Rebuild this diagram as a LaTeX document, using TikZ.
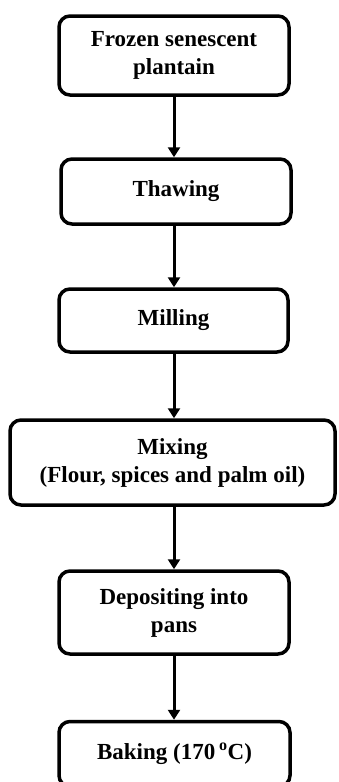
\documentclass[tikz,border=0pt]{standalone}
\usepackage{fontspec}
\setmainfont{Liberation Serif}
\usepackage{tikz}
\usetikzlibrary{arrows.meta,positioning}
\tikzset{stagebox/.style={draw,line width=3.5pt,rounded corners=11pt,align=center,inner sep=0pt,
    font=\fontsize{23}{28}\selectfont\bfseries,minimum width=230pt},
  flow/.style={-{Triangle[length=10pt,width=12pt]},line width=3pt}}

\begin{document}
\begin{tikzpicture}[x=1pt,y=-1pt]
\useasboundingbox (0,0) rectangle (339,782);
% process steps
\node[stagebox,minimum height=79pt] (frozen) at (174,55.5) {Frozen senescent\\plantain};
\node[stagebox,minimum height=65pt] (thaw) at (176,191.5) {Thawing};
\node[stagebox,minimum height=63pt,minimum width=229pt] (mill) at (173.5,320.5) {Milling};
\node[stagebox,minimum height=85pt,minimum width=325pt] (mix) at (172.5,462.5) {Mixing\\(Flour, spices and palm oil)};
\node[stagebox,minimum height=83pt] (deposit) at (174,612.5) {Depositing into\\pans};
\node[stagebox,minimum height=65pt,minimum width=231pt] (bake) at (174.5,754) {Baking (170\,\textsuperscript{o}C)};
% arrows
\draw[flow] (frozen.south -| 174,0) -- (thaw.north -| 174,0);
\draw[flow] (thaw.south -| 174,0) -- (mill.north -| 174,0);
\draw[flow] (mill.south -| 174,0) -- (mix.north -| 174,0);
\draw[flow] (mix.south -| 174,0) -- (deposit.north -| 174,0);
\draw[flow] (deposit.south -| 174,0) -- (bake.north -| 174,0);
\end{tikzpicture}
\end{document}
